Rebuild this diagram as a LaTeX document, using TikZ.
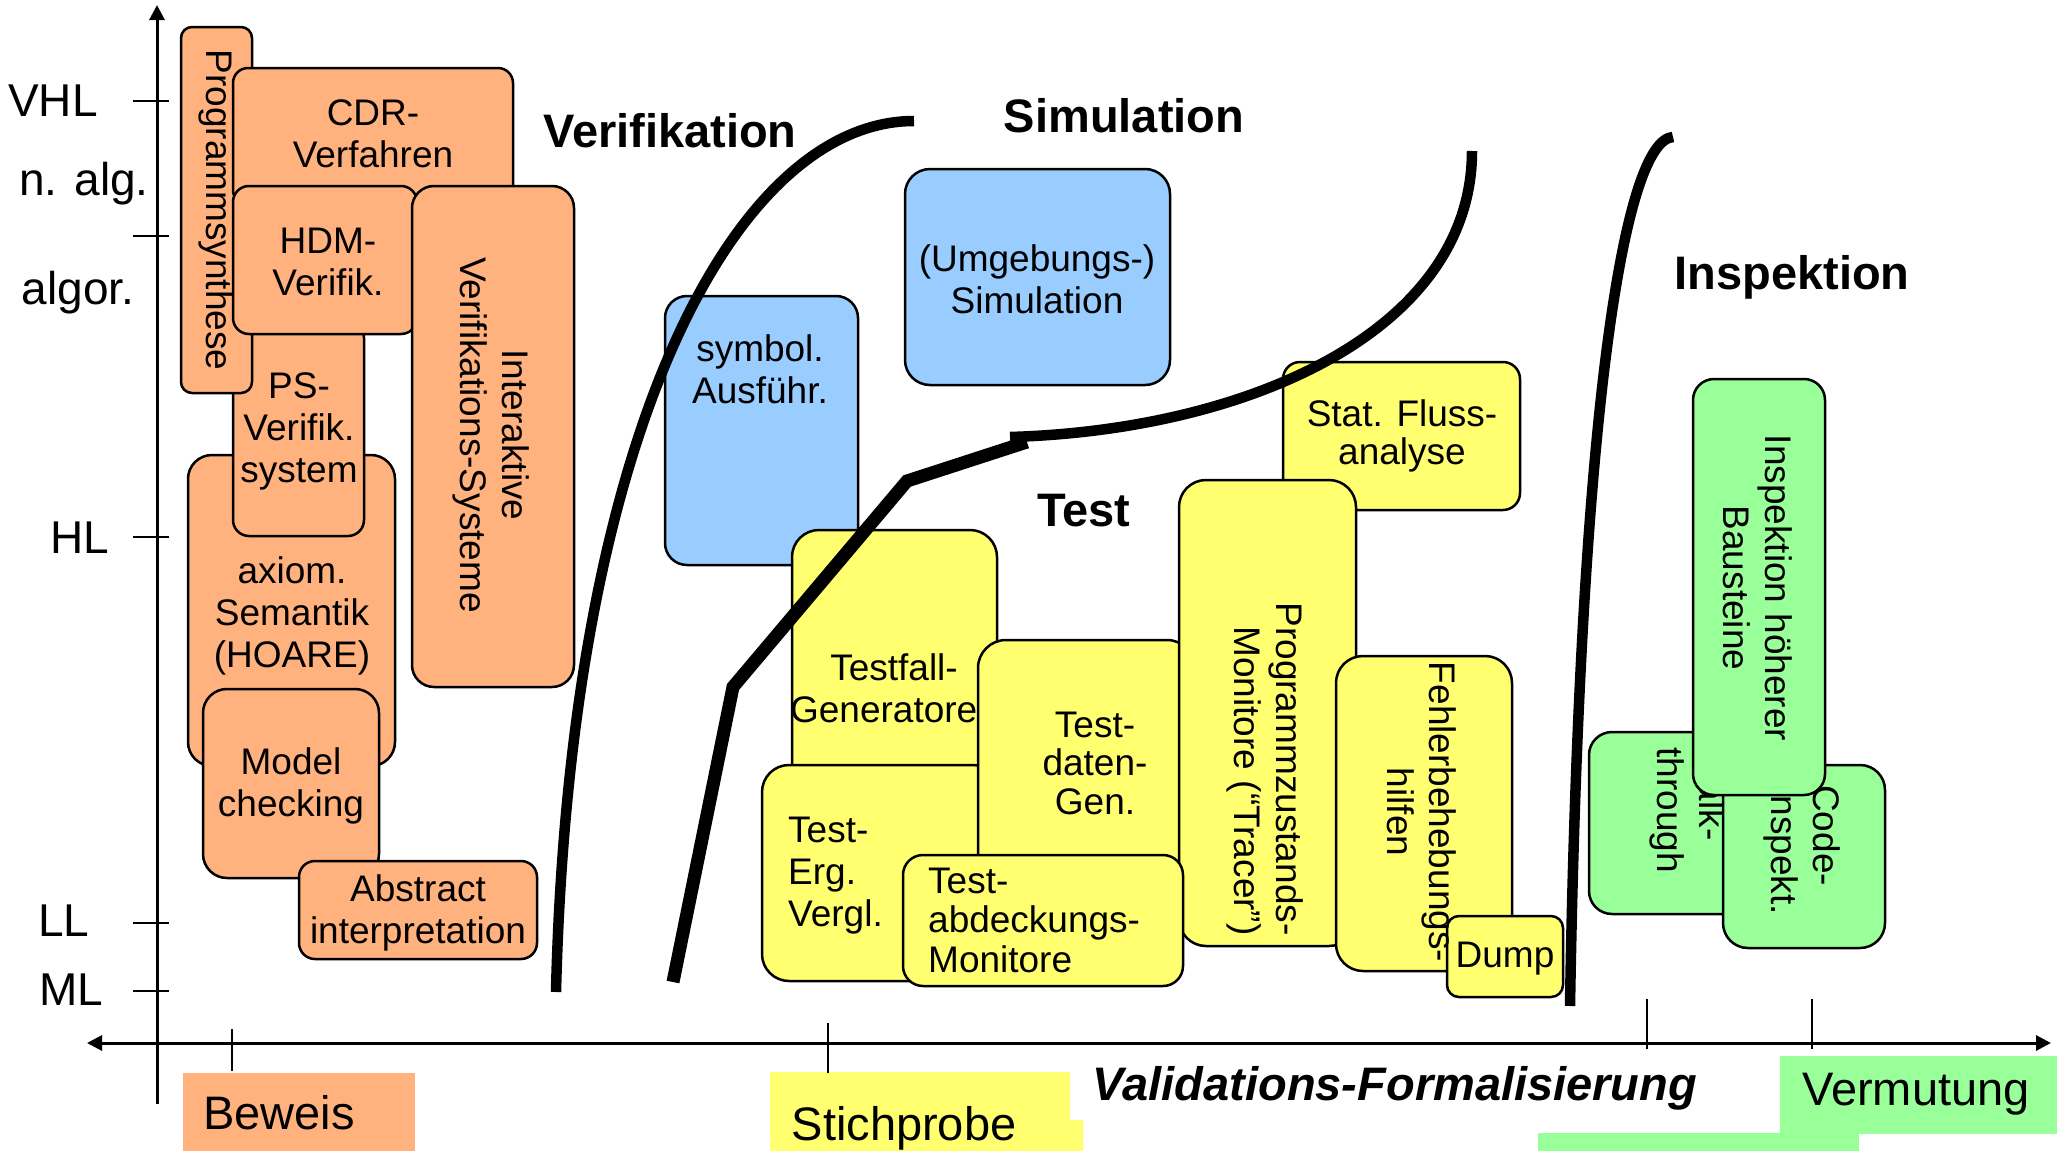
\documentclass[tikz,border=0pt]{standalone}
\usepackage{fontspec}
\setmainfont{Liberation Sans}
\usetikzlibrary{arrows.meta}
\definecolor{orng}{RGB}{255,178,125}
\definecolor{blu}{RGB}{153,204,255}
\definecolor{yel}{RGB}{255,255,112}
\definecolor{grn}{RGB}{153,255,153}
\newcommand{\bxfont}{\fontsize{37}{42}\selectfont}
\newcommand{\bxtight}{\fontsize{37}{38.5}\selectfont}
\newcommand{\axfont}{\fontsize{46}{50}\selectfont}
\newcommand{\lblfont}{\fontsize{47}{52}\selectfont}
\newcommand{\ttlfont}{\fontsize{47}{52}\selectfont\bfseries}

\begin{document}
\begin{tikzpicture}[x=1pt, y=-1pt]
\tikzstyle{every node}+=[inner sep=0pt, font=\bxfont, align=center]
\tikzstyle{obox}=[draw=black, line width=2.5pt, fill=orng]
\tikzstyle{bbox}=[draw=black, line width=2.5pt, fill=blu]
\tikzstyle{ybox}=[draw=black, line width=2.5pt, fill=yel]
\tikzstyle{gbox}=[draw=black, line width=2.5pt, fill=grn]
\tikzstyle{axis}=[black, line width=3pt]
\tikzstyle{tick}=[black, line width=2pt]
\tikzstyle{sep}=[black, line width=10.5pt, line cap=butt]
\useasboundingbox (0,0) rectangle (2057,1151);

% labels under the axis
\fill [orng] (183,1073) rectangle (415,1151);
\fill [yel] (770,1072) -- (1070,1072) -- (1070,1120) -- (1083,1120) -- (1083,1151) -- (770,1151) -- cycle;
\fill [grn] (1780,1056) rectangle (2057,1134);
\fill [grn] (1538,1133) rectangle (1859,1151);
\node [font=\lblfont] (beweis) at (279,1113) {Beweis};
\node [font=\lblfont] (stich) at (904,1128) {Stichprobe};
\node [font=\lblfont] (verm) at (1916,1094) {Vermutung};
\node [font=\ttlfont\itshape] (valid) at (1395,1088) {Validations-Formalisierung};

% axes
\draw [axis, {Triangle[length=15pt,width=15pt]}-{Triangle[length=15pt,width=15pt]}] (87,1043) -- (2051,1043);
\draw [axis, -{Triangle[length=15pt,width=15pt]}] (157,1104) -- (157,5);
\draw [tick] (133,101) -- (169,101);
\draw [tick] (133,236) -- (169,236);
\draw [tick] (133,537) -- (169,537);
\draw [tick] (133,923) -- (169,923);
\draw [tick] (133,991) -- (169,991);
\draw [tick] (232,1029) -- (232,1071);
\draw [tick] (828,1023) -- (828,1073);
\draw [tick] (1647,999) -- (1647,1049);
\draw [tick] (1812,999) -- (1812,1049);
\node [font=\axfont] (vhl) at (53,101) {VHL};
\node [font=\axfont] (nalg) at (84,184) {n. alg.};
\node [font=\axfont] (algor) at (78,293) {algor.};
\node [font=\axfont] (hl) at (80,538) {HL};
\node [font=\axfont] (ll) at (64,921) {LL};
\node [font=\axfont] (ml) at (71,990) {ML};

% Verifikation
\draw [obox, rounded corners=24pt] (188,455) rectangle (395,766);
\node (axiom) at (292,616) {axiom.\\Semantik\\(HOARE)};
\draw [obox, rounded corners=16pt] (233,322) rectangle (364,536);
\node (psv) at (299,431) {PS-\\Verifik.\\system};
\draw [obox, rounded corners=11pt] (181,27) rectangle (252,393);
\node [rotate=-90] (synth) at (216,210) {Programmsynthese};
\draw [obox, rounded corners=15pt] (233,68) rectangle (513,205);
\node (cdr) at (373,134) {CDR-\\Verfahren};
\draw [obox, rounded corners=16pt] (233,186) rectangle (417,334);
\node (hdm) at (328,262) {HDM-\\Verifik.};
\draw [obox, rounded corners=22pt] (412,186) rectangle (574,687);
\node [rotate=-90] (ivs) at (491,435) {Interaktive\\Verifikations-Systeme};
\draw [obox, rounded corners=24pt] (203,689) rectangle (379,878);
\node (mc) at (291,786) {Model\\checking};
\draw [obox, rounded corners=16pt] (299,861) rectangle (537,959);
\node (ai) at (418,913) {Abstract\\interpretation};

% Simulation
\draw [bbox, rounded corners=22pt] (665,296) rectangle (858,565);
\node (symb) at (760,369) {symbol.\\Ausführ.};
\draw [bbox, rounded corners=25pt] (905,169) rectangle (1170,385);
\node (umg) at (1037,279) {(Umgebungs-)\\Simulation};

% Test
\draw [ybox, rounded corners=17pt] (1283,362) rectangle (1520,510);
\node [font=\bxtight] (sfa) at (1402,436) {Stat. Fluss-\\analyse};
\draw [ybox, rounded corners=27pt] (792,530) rectangle (997,846);
\node (tfg) at (894,688) {Testfall-\\Generatore\phantom{n}};
\draw [ybox, rounded corners=27pt] (762,765) rectangle (1000,981);
\node [anchor=west, align=left] (teg) at (788,876) {Test-\\Erg.\\Vergl.};
\draw [ybox, rounded corners=28pt] (978,640) rectangle (1195,900);
\node [font=\bxtight] (tdg) at (1095,763) {Test-\\daten-\\Gen.};
\draw [ybox, rounded corners=27pt] (1179,480) rectangle (1356,946);
\node [rotate=-90, align=right] (pzm) at (1265,769) {Programmzustands-\\Monitore (“Tracer”)};
\draw [ybox, rounded corners=20pt] (903,855) rectangle (1183,986);
\node [anchor=west, align=left, font=\fontsize{37}{39.5}\selectfont] (tam) at (928,920) {Test-\\abdeckungs-\\Monitore};
\draw [ybox, rounded corners=27pt] (1336,656) rectangle (1512,971);
\draw [ybox, rounded corners=12pt] (1447,916) rectangle (1563,997);
\node [rotate=-90] (feh) at (1422,812) {Fehlerbehebungs-\\hilfen};
\node (dump) at (1505,959) {Dump};

% Inspektion
\draw [gbox, rounded corners=23pt] (1589,732) rectangle (1760,914);
\node [rotate=-90, align=left] (wt) at (1688,810) {Walk-\\through};
\draw [gbox, rounded corners=25pt] (1723,765) rectangle (1885,948);
\node [rotate=-90, align=left] (ci) at (1802,850) {Code-\\Inspekt.};
\draw [gbox, rounded corners=21pt] (1693,379) rectangle (1825,795);
\node [rotate=-90] (ihb) at (1758,588) {Inspektion höherer\\Bausteine};

% borders between the fields
\draw [sep] (914,121) .. controls (740,121) and (570,420) .. (556,992);
\draw [sep] (1472,151) .. controls (1472,330) and (1250,430) .. (1010,437);
\draw [sep, line width=13pt] (1027,442) -- (907,481) -- (733,687) -- (673,982);
\draw [sep] (1673,137) .. controls (1625,140) and (1580,400) .. (1570,1006);

\node [font=\ttlfont] (verif) at (670,131) {Verifikation};
\node [font=\ttlfont] (simul) at (1124,116) {Simulation};
\node [font=\ttlfont] (test) at (1084,511) {Test};
\node [font=\ttlfont] (insp) at (1792,277) {Inspektion};
\end{tikzpicture}
\end{document}
